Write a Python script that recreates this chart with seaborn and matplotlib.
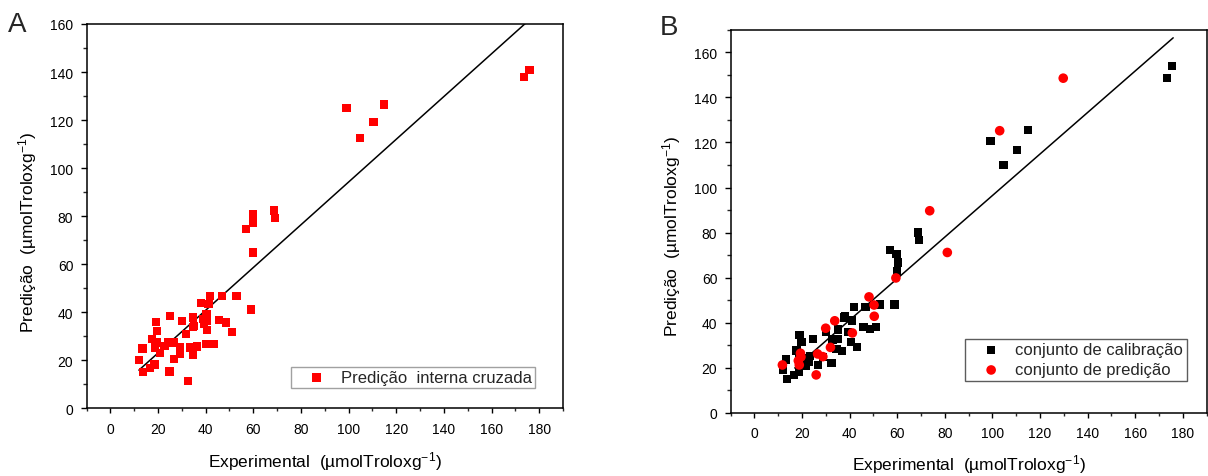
import numpy as np
import pandas as pd
import matplotlib
matplotlib.use("Agg")
import matplotlib.pyplot as plt
from matplotlib.ticker import MultipleLocator
import seaborn as sns

# ---------------- data ----------------
# Panel A: internal cross-validation predictions
a_exp = [176, 173.6, 99.1, 115, 110.4, 104.8, 68.8, 69.1, 59.8, 60, 57, 60,
         59, 52.9, 46.8, 41.7, 38, 41.2, 40.4, 38.8, 39.3, 40.6, 34.8, 34.8,
         31.9, 30, 25, 45.6, 48.5, 51, 43.6, 40.4, 36.4, 33.7, 34.8, 29.2,
         29.2, 26.8, 24.8, 32.7, 19.3, 19.6, 17.6, 19.6, 18.8, 20.9, 18.6,
         16.7, 13.8, 13.5, 11.9, 24.4, 26.8, 22.8, 35.2, 40.5]
a_pred = [140.8, 137.8, 125, 126.5, 119.3, 112.4, 82.4, 79.3, 80.7, 77.1, 74.6, 64.9,
          41.1, 46.8, 46.8, 46.8, 43.8, 43.3, 39.2, 37.1, 35, 32.5, 37.8, 33.9,
          30.8, 36.4, 38.5, 36.7, 35.7, 31.9, 26.7, 26.9, 25.7, 25.3, 22.1, 25.3,
          22.5, 20.4, 15.3, 11.4, 36, 32.2, 28.8, 27.4, 25.3, 22.9, 18.3,
          16.9, 15.1, 24.9, 20.1, 27.4, 27.4, 26, 34.2, 36.5]
a_fit = (0.89, 5.2)          # slope, intercept
a_fit_range = [12, 176]

# Panel B: calibration set
b_cal_exp = [175.4, 173.5, 99.2, 115, 110.4, 104.7, 68.9, 69.3, 56.9, 59.8, 60.3, 60,
             58.9, 52.8, 46.7, 41.8, 38, 41, 51.2, 48.6, 45.9, 43.1, 40.7, 39.3,
             35.1, 34.95, 32.8, 34.5, 36.9, 30, 24.7, 19, 19.8, 17.7, 19, 22.3,
             23.1, 26.8, 32.5, 28.8, 13.3, 12, 13.7, 16.6, 18.7, 21.5, 21.3, 23.4,
             35.3, 37.7]
b_cal_pred = [153.8, 148.5, 120.6, 125.4, 116.5, 109.9, 80.1, 76.8, 72.4, 70.5, 66.8, 62.7,
              48.1, 48.1, 46.9, 46.9, 42.8, 41, 38.1, 37.3, 38.1, 29.2, 31.4, 35.8,
              36.9, 32.9, 32.6, 28.5, 27.6, 35.8, 32.9, 34.7, 31.4, 27.7, 25.5, 24.3,
              22.6, 21.4, 22.3, 24.8, 23.7, 19.3, 15.2, 16.9, 18.1, 21.1, 23.9, 25.4,
              37.2, 42.4]
# Panel B: prediction set
b_pred_exp = [129.8, 103.1, 73.7, 81.1, 59.5, 48.2, 50.3, 50.4, 41.2, 33.8, 30, 32,
              28.8, 26.6, 26, 19.4, 19.6, 18.5, 18.9, 11.8]
b_pred_pred = [148.5, 125.2, 89.7, 71.2, 59.9, 51.5, 47.9, 42.9, 35.5, 40.9, 37.6, 29.1,
               25, 26.2, 16.9, 26.5, 24.9, 23.2, 21.3, 21.3]
b_fit = (0.921, 4.3)
b_fit_range = [17, 176]

x_ticks = [0, 20, 40, 60, 80, 100, 120, 140, 160, 180]
xlabel = "Experimental  (µmolTroloxg$^{-1}$)"
ylabel = "Predição  (µmolTroloxg$^{-1}$)"
label_a = "Predição  interna cruzada"
label_cal = "conjunto de calibração"
label_pred = "conjunto de predição"

# ---------------- style ----------------
sns.set_theme(style="ticks")
plt.rcParams["font.family"] = ["Liberation Sans", "DejaVu Sans"]
plt.rcParams["mathtext.fontset"] = "custom"
plt.rcParams["mathtext.rm"] = "Liberation Sans"
plt.rcParams["mathtext.it"] = "Liberation Sans:italic"
plt.rcParams["mathtext.bf"] = "Liberation Sans:bold"

W, H = 1208, 477
fig = plt.figure(figsize=(W / 100, H / 100), dpi=100)

def px_axes(l, r, t, b):
    return fig.add_axes([l / W, 1 - b / H, (r - l) / W, (b - t) / H])

axA = px_axes(86.5, 563, 25, 409.3)
axB = px_axes(730.5, 1206.5, 30.7, 414)

def style_axis(ax, ylim, ylab_y, xlab_y):
    ax.set_xlim(-10, 190)
    ax.set_ylim(*ylim)
    ax.set_xticks(x_ticks)
    ax.xaxis.set_minor_locator(MultipleLocator(10))
    ax.yaxis.set_major_locator(MultipleLocator(20))
    ax.yaxis.set_minor_locator(MultipleLocator(10))
    for s in ax.spines.values():
        s.set_linewidth(1.1)
        s.set_color("black")
    ax.tick_params(axis="x", which="major", direction="out", length=3.6, width=1,
                   pad=6.0, labelsize=10, colors="black")
    ax.tick_params(axis="x", which="minor", direction="out", length=2.2, width=1)
    ax.tick_params(axis="y", which="major", direction="out", length=4.5, width=1,
                   pad=5.0, labelsize=10, colors="black")
    ax.tick_params(axis="y", which="minor", direction="out", length=2.9, width=1)
    ax.set_xlabel(xlabel, fontsize=12.5, color="black")
    ax.set_ylabel(ylabel, fontsize=12.5, color="black")
    ax.xaxis.set_label_coords(0.5, xlab_y)
    ax.yaxis.set_label_coords(-0.124, ylab_y)
    ax.xaxis.label.set_va("center")
    ax.yaxis.label.set_va("center")

leg_kw = dict(borderaxespad=0, fontsize=12, frameon=True, fancybox=False,
              handlelength=2.7, handletextpad=0.1, borderpad=0.2, labelspacing=0.3)

# ---------------- panel A ----------------
dfA = pd.DataFrame({"exp": a_exp, "pred": a_pred})
sns.scatterplot(data=dfA, x="exp", y="pred", ax=axA, marker="s", s=36,
                color="#ff0000", edgecolor="none", linewidth=0, label=label_a, zorder=3)
lxA = np.array(a_fit_range, dtype=float)
sns.lineplot(x=lxA, y=a_fit[0] * lxA + a_fit[1], ax=axA, color="black",
             linewidth=1.1, zorder=2, legend=False)
style_axis(axA, (0, 160), 0.461, -0.136)
legA = axA.legend(loc="upper left", bbox_to_anchor=(290.6 / W, 1 - 367.7 / H),
                  bbox_transform=fig.transFigure, edgecolor="#8a8a8a", **leg_kw)
legA.get_frame().set_linewidth(1.0)

# ---------------- panel B ----------------
dfBc = pd.DataFrame({"exp": b_cal_exp, "pred": b_cal_pred})
dfBp = pd.DataFrame({"exp": b_pred_exp, "pred": b_pred_pred})
sns.scatterplot(data=dfBc, x="exp", y="pred", ax=axB, marker="s", s=36,
                color="black", edgecolor="none", linewidth=0, label=label_cal, zorder=3)
sns.scatterplot(data=dfBp, x="exp", y="pred", ax=axB, marker="o", s=48,
                color="#ff0000", edgecolor="none", linewidth=0, label=label_pred, zorder=4)
lxB = np.array(b_fit_range, dtype=float)
sns.lineplot(x=lxB, y=b_fit[0] * lxB + b_fit[1], ax=axB, color="black",
             linewidth=1.1, zorder=2, legend=False)
style_axis(axB, (0, 170), 0.462, -0.133)
legB = axB.legend(loc="upper left", bbox_to_anchor=(965.3 / W, 1 - 340 / H),
                  bbox_transform=fig.transFigure, edgecolor="#333333", **leg_kw)
legB.get_frame().set_linewidth(1.0)

# panel letters
fig.text(8 / W, 1 - 32 / H, "A", fontsize=20, va="baseline", ha="left")
fig.text(660 / W, 1 - 35 / H, "B", fontsize=20, va="baseline", ha="left")

fig.savefig("out.png", dpi=100, facecolor="white")
